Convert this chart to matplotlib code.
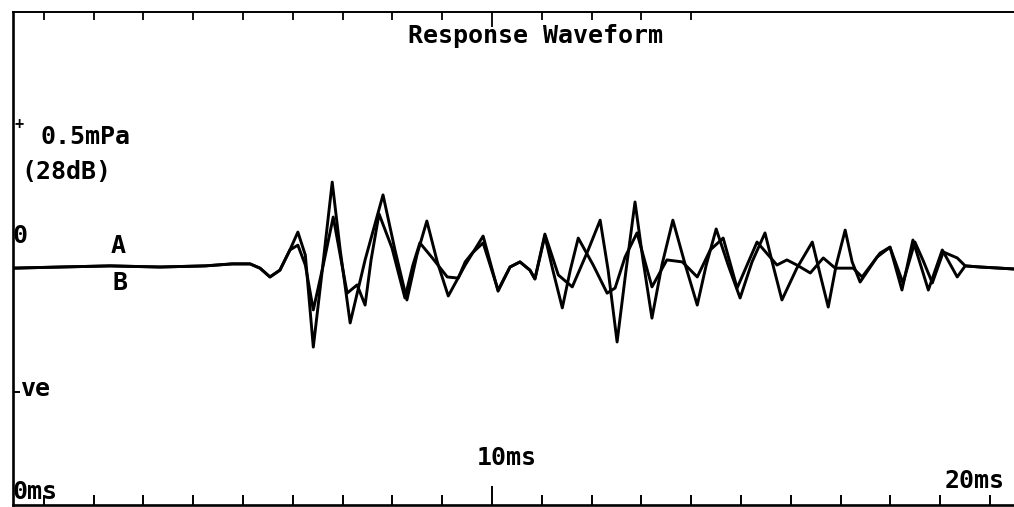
import matplotlib
matplotlib.use("Agg")
import matplotlib.pyplot as plt

# time in ms, pressure in mPa
LEAD_T = [0.38, 1.33, 2.33, 3.33, 4.24, 4.78, 5.14, 5.34, 5.54, 5.74, 5.94]
LEAD_P = [-0.004, 0.0, 0.004, 0.0, 0.004, 0.011, 0.011, -0.004, -0.035, -0.011, 0.060]

MID_T = [10.36, 10.56, 10.76, 10.86]
MID_P = [0.0, 0.018, -0.011, -0.042]

TAIL_T = [19.80, 20.20, 20.48]
TAIL_P = [0.0, -0.004, -0.007]

# trace A (larger swing)
A1_T = [6.10, 6.25, 6.41, 6.59, 6.79, 6.95, 7.15, 7.45, 7.81, 8.05, 8.29, 8.49,
        8.69, 8.90, 9.12, 9.46, 9.82, 10.12]
A1_P = [0.123, 0.042, -0.282, -0.011, 0.299, 0.060, -0.197, 0.025, 0.254, 0.060,
        -0.116, 0.042, 0.162, 0.018, -0.102, 0.007, 0.109, -0.085]
A2_T = [11.06, 11.33, 11.61, 11.93, 12.17, 12.33, 12.51, 12.69, 12.87, 13.03,
        13.21, 13.41, 13.63, 13.88, 14.12, 14.30, 14.50, 14.74, 14.98, 15.22,
        15.48, 15.64, 15.82, 16.12, 16.43, 16.59, 16.75, 16.91, 17.09, 17.23,
        17.39, 17.73, 17.99, 18.23, 18.45, 18.76, 19.04, 19.34, 19.50]
A2_P = [0.116, -0.028, -0.070, 0.060, 0.165, -0.011, -0.264, -0.011, 0.229, 0.025,
        -0.180, 0.007, 0.165, 0.007, -0.134, 0.007, 0.134, 0.007, -0.109, 0.018,
        0.120, 0.007, -0.116, -0.004, 0.088, -0.028, -0.141, 0.007, 0.130, 0.018,
        -0.053, 0.035, 0.070, -0.081, 0.095, -0.081, 0.060, -0.035, 0.004]

# trace B (smaller swing)
B1_T = [6.10, 6.25, 6.41, 6.61, 6.81, 6.95, 7.09, 7.29, 7.45, 7.57, 7.73, 7.99,
        8.25, 8.41, 8.55, 8.80, 9.10, 9.32, 9.46, 9.60, 9.82, 10.12]
B1_P = [0.077, 0.007, -0.151, 0.007, 0.176, 0.042, -0.092, -0.063, -0.134, 0.025,
        0.187, 0.067, -0.109, 0.007, 0.085, 0.032, -0.035, -0.039, 0.018, 0.049,
        0.085, -0.081]
B2_T = [11.06, 11.22, 11.41, 11.57, 11.73, 12.03, 12.31, 12.47, 12.67, 12.91,
        13.21, 13.51, 13.82, 14.12, 14.38, 14.64, 14.92, 15.32, 15.72, 15.92,
        16.12, 16.39, 16.65, 16.89, 17.25, 17.43, 17.79, 17.99, 18.25, 18.49,
        18.65, 18.84, 19.06, 19.34, 19.50]
B2_P = [0.109, -0.011, -0.144, -0.011, 0.102, 0.007, -0.092, -0.074, 0.035, 0.120,
        -0.070, 0.025, 0.018, -0.035, 0.060, 0.102, -0.074, 0.088, 0.007, 0.025,
        0.007, -0.021, 0.032, -0.004, -0.004, -0.035, 0.049, 0.070, -0.056, 0.088,
        0.025, -0.056, 0.053, 0.032, 0.004]

BOTTOM_TICKS = list(range(1, 21))
TOP_TICKS = list(range(1, 15))

W, H = 1014, 507
fig = plt.figure(figsize=(W / 100, H / 100), dpi=100)
ax = fig.add_axes([13 / W, 1 - 505 / H, 1 - 13 / W, (505 - 12) / H])

t_a = LEAD_T + A1_T + MID_T + A2_T + TAIL_T
p_a = LEAD_P + A1_P + MID_P + A2_P + TAIL_P
t_b = LEAD_T + B1_T + MID_T + B2_T + TAIL_T
p_b = LEAD_P + B1_P + MID_P + B2_P + TAIL_P
for t, p in [(t_a, p_a), (t_b, p_b)]:
    ax.plot(t, p, color="black", lw=2.1, solid_joinstyle="round",
            solid_capstyle="round")

ax.set_xlim(0.38, 20.48)
ax.set_ylim(-0.838, 0.898)

ax.spines["right"].set_visible(False)
ax.spines["left"].set_linewidth(1.9)
ax.spines["bottom"].set_linewidth(1.9)
ax.spines["top"].set_linewidth(1.4)

ax.set_xticks([10])
ax.set_xticks([t for t in BOTTOM_TICKS if t != 10], minor=True)
ax.tick_params(axis="x", which="major", direction="in", length=13.5, width=1.4,
               labelbottom=False)
ax.tick_params(axis="x", which="minor", direction="in", length=7, width=1.4)
ax.set_yticks([-0.44])
ax.tick_params(axis="y", direction="in", length=5, width=1.4, labelleft=False)

top = ax.secondary_xaxis("top")
top.set_xticks([10])
top.set_xticks([t for t in TOP_TICKS if t != 10], minor=True)
top.tick_params(which="major", direction="in", length=11, width=1.3,
                labeltop=False)
top.tick_params(which="minor", direction="in", length=6, width=1.3)
top.spines["top"].set_visible(False)

font = dict(family="DejaVu Sans Mono", weight="bold", color="black")


def label(x, y, s, ha="left", size=18):
    fig.text(x / W, 1 - y / H, s, ha=ha, va="center", fontsize=size, **font)


label(535, 36, "Response Waveform", ha="center")
label(19, 125, "+", ha="center", size=11)
label(41, 137, "0.5mPa")
label(21, 172, "(28dB)")
label(12, 236, "0")
label(118, 246, "A", ha="center")
label(120, 283, "B", ha="center")
label(20, 389, "ve")
label(13, 492, "0ms")
label(477, 458, "10ms")
label(945, 481, "20ms")

fig.savefig("out.png", dpi=100)
